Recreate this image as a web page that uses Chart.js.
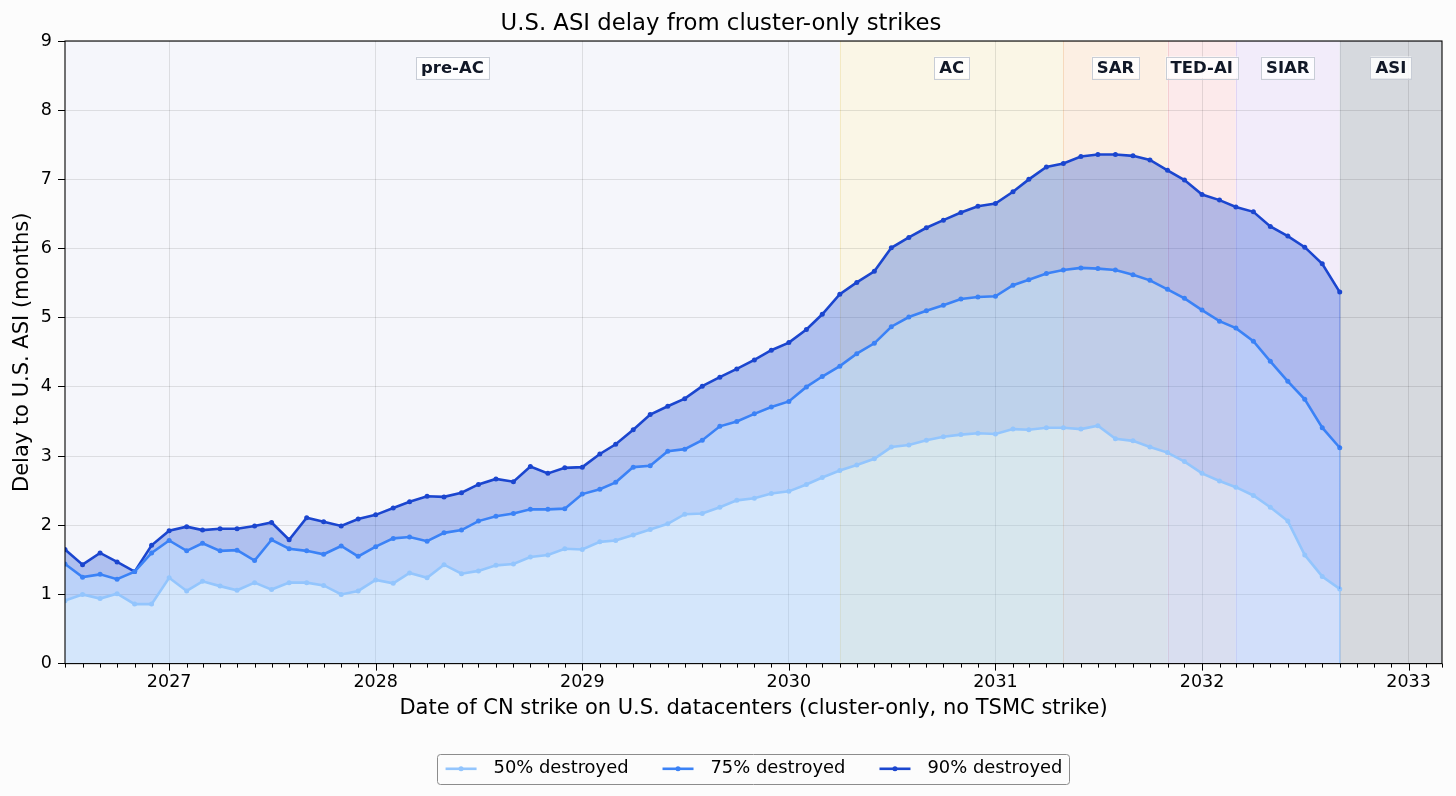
<!DOCTYPE html>
<html>
<head>
<meta charset="utf-8">
<script src="https://cdn.jsdelivr.net/npm/chart.js@4.4.1/dist/chart.umd.min.js"></script>
<style>
html,body{margin:0;padding:0;background:#fcfcfc;}
#wrap{width:1456px;height:796px;position:relative;}
</style>
</head>
<body>
<div id="wrap"><canvas id="c" width="1456" height="796"></canvas></div>
<script>
// ---------------- data ----------------
const months = [
  "2026-07","2026-08","2026-09","2026-10","2026-11","2026-12",
  "2027-01","2027-02","2027-03","2027-04","2027-05","2027-06","2027-07","2027-08","2027-09","2027-10","2027-11","2027-12",
  "2028-01","2028-02","2028-03","2028-04","2028-05","2028-06","2028-07","2028-08","2028-09","2028-10","2028-11","2028-12",
  "2029-01","2029-02","2029-03","2029-04","2029-05","2029-06","2029-07","2029-08","2029-09","2029-10","2029-11","2029-12",
  "2030-01","2030-02","2030-03","2030-04","2030-05","2030-06","2030-07","2030-08","2030-09","2030-10","2030-11","2030-12",
  "2031-01","2031-02","2031-03","2031-04","2031-05","2031-06","2031-07","2031-08","2031-09","2031-10","2031-11","2031-12",
  "2032-01","2032-02","2032-03","2032-04","2032-05","2032-06","2032-07","2032-08","2032-09"
];
const delay50 = [0.91,1.00,0.94,1.01,0.86,0.86,1.24,1.05,1.19,1.12,1.06,1.17,1.07,1.17,
  1.17,1.13,1.00,1.05,1.21,1.16,1.31,1.24,1.43,1.30,1.34,1.42,1.44,
  1.54,1.57,1.66,1.65,1.76,1.78,1.86,1.94,2.02,2.16,2.17,2.26,2.36,2.39,2.46,
  2.49,2.59,2.69,2.79,2.87,2.96,3.13,3.16,3.23,3.28,3.31,3.33,3.32,3.39,
  3.38,3.41,3.41,3.39,3.44,3.25,3.22,3.13,3.05,2.92,2.75,2.64,2.55,2.43,2.26,2.06,1.57,1.26,1.08];
const delay75 = [1.44,1.25,1.29,1.22,1.33,1.60,1.78,1.63,1.74,1.63,1.64,1.49,1.79,1.66,
  1.63,1.58,1.70,1.55,1.69,1.81,1.83,1.77,1.89,1.93,2.06,2.13,2.17,
  2.23,2.23,2.24,2.45,2.52,2.62,2.84,2.86,3.07,3.10,3.23,3.43,3.50,3.61,3.71,
  3.79,4.00,4.15,4.30,4.48,4.63,4.87,5.01,5.10,5.18,5.27,5.30,5.31,5.47,
  5.55,5.64,5.69,5.72,5.71,5.69,5.62,5.54,5.41,5.28,5.11,4.95,4.85,4.66,4.37,4.08,3.82,3.41,3.12];
const delay90 = [1.65,1.43,1.60,1.47,1.33,1.71,1.92,1.98,1.93,1.95,1.95,1.99,2.04,1.79,
  2.11,2.05,1.99,2.09,2.15,2.25,2.34,2.42,2.41,2.47,2.59,2.67,2.63,
  2.85,2.75,2.83,2.84,3.03,3.17,3.38,3.60,3.72,3.83,4.01,4.14,4.26,4.39,4.53,
  4.64,4.83,5.05,5.34,5.51,5.67,6.01,6.16,6.30,6.41,6.52,6.61,6.65,6.82,
  7.00,7.18,7.23,7.33,7.36,7.36,7.34,7.28,7.13,6.99,6.78,6.70,6.60,6.53,6.32,6.18,6.02,5.78,5.37];
const seriesLabels = ["50% destroyed","75% destroyed","90% destroyed"];
const yearTicks = ["2027-01","2028-01","2029-01","2030-01","2031-01","2032-01","2033-01"];
const axisStart = "2026-07";
const axisEnd = "2033-03";
const phaseNames  = ["pre-AC","AC","SAR","TED-AI","SIAR","ASI"];
const phaseStarts = ["2026-07","2030-04","2031-05","2031-11","2032-03","2032-09"];

// ---------------- styles ----------------
const lineColors = ["#93c5fd","#3b82f6","#1b46cf"];
const fillColors = ["rgba(147,197,253,0.33)","rgba(59,130,246,0.31)","rgba(29,78,216,0.32)"];
const edgeColors = ["rgba(147,197,253,0.9)","rgba(59,130,246,0.55)","rgba(29,78,216,0.45)"];
const phaseFill = ["#f5f6fb","#faf6e6","#fcefe3","#fceaeb","#f2ecfa","#d6d9de"];
const phaseEdge = ["#e9edf7","#f3e9c3","#f6d9bd","#f4cdd0","#e0d4f4","#c3c7ce"];
const FONT = "DejaVu Sans";

// month string -> fractional calendar year (first day of that month)
function toYear(m){
  const p = m.split("-").map(Number);
  const t0 = Date.UTC(p[0],0,1), t1 = Date.UTC(p[0]+1,0,1), t = Date.UTC(p[0],p[1]-1,1);
  return p[0] + (t - t0)/(t1 - t0);
}
const xMin = toYear(axisStart), xMax = toYear(axisEnd);
const seriesVals = [delay50, delay75, delay90];

const datasets = seriesVals.map((vals, k) => ({
  label: seriesLabels[k],
  data: months.map((m,i) => ({x: toYear(m), y: vals[i]})),
  borderColor: lineColors[k],
  backgroundColor: fillColors[k],
  borderWidth: 2.6,
  pointRadius: 2.5,
  pointBorderWidth: 0,
  pointBackgroundColor: lineColors[k],
  pointHoverRadius: 2.5,
  tension: 0,
  fill: k === 0 ? "origin" : "-1"
}));

function monthList(a, b){
  const out = [];
  let [y, m] = a.split("-").map(Number);
  const [yb, mb] = b.split("-").map(Number);
  while (y < yb || (y === yb && m <= mb)) {
    out.push({v: toYear(y + "-" + String(m).padStart(2,"0")), major: m === 1});
    m++; if (m > 12) { m = 1; y++; }
  }
  return out;
}

const decorPlugin = {
  id: "decor",
  beforeDraw(chart){
    const {ctx, chartArea: a, scales: {x}} = chart;
    ctx.save();
    ctx.fillStyle = "#fcfcfc";
    ctx.fillRect(0,0,chart.width,chart.height);
    const starts = phaseStarts.map(toYear);
    for (let i=0;i<phaseNames.length;i++){
      const x0 = x.getPixelForValue(starts[i]);
      const x1 = x.getPixelForValue(i+1<starts.length ? starts[i+1] : xMax);
      ctx.fillStyle = phaseFill[i];
      ctx.fillRect(x0, a.top, x1-x0, a.bottom-a.top);
    }
    for (let i=1;i<phaseNames.length;i++){
      const xp = Math.round(x.getPixelForValue(starts[i])) + 0.5;
      ctx.strokeStyle = phaseEdge[i];
      ctx.lineWidth = 1;
      ctx.beginPath(); ctx.moveTo(xp, a.top); ctx.lineTo(xp, a.bottom); ctx.stroke();
    }
    ctx.restore();
  },
  afterDatasetsDraw(chart){
    const {ctx, chartArea: a, scales: {x, y}} = chart;
    ctx.save();
    const last = months.length-1;
    const xl = x.getPixelForValue(toYear(months[last]));
    let prev = 0;
    seriesVals.forEach((vals,k)=>{
      ctx.strokeStyle = edgeColors[k];
      ctx.lineWidth = 1.2;
      ctx.beginPath(); ctx.moveTo(xl, y.getPixelForValue(prev)); ctx.lineTo(xl, y.getPixelForValue(vals[last])); ctx.stroke();
      prev = vals[last];
    });
    const starts = phaseStarts.map(toYear);
    ctx.font = "bold 16.5px '" + FONT + "'";
    ctx.textAlign = "center";
    ctx.textBaseline = "middle";
    for (let i=0;i<phaseNames.length;i++){
      const x0 = x.getPixelForValue(starts[i]);
      const x1 = x.getPixelForValue(i+1<starts.length ? starts[i+1] : xMax);
      const cx = (x0+x1)/2, cy = a.top + 26.5;
      const w = ctx.measureText(phaseNames[i]).width + 10, h = 22;
      ctx.fillStyle = "rgba(255,255,255,0.85)";
      ctx.strokeStyle = "#c8cdd6";
      ctx.lineWidth = 1;
      ctx.fillRect(cx-w/2, cy-h/2, w, h);
      ctx.strokeRect(Math.round(cx-w/2)+0.5, Math.round(cy-h/2)+0.5, Math.round(w), h);
      ctx.fillStyle = "#111827";
      ctx.fillText(phaseNames[i], cx, cy+1);
    }
    ctx.restore();
  },
  afterDraw(chart){
    const {ctx, chartArea: a, scales: {x}} = chart;
    ctx.save();
    ctx.strokeStyle = "#000";
    ctx.lineWidth = 1.1;
    ctx.strokeRect(a.left, a.top, a.right-a.left, a.bottom-a.top);
    ctx.lineWidth = 1;
    monthList(axisStart, axisEnd).forEach(t => {
      const px = Math.round(x.getPixelForValue(t.v)) + 0.5;
      ctx.beginPath(); ctx.moveTo(px, a.bottom); ctx.lineTo(px, a.bottom + (t.major ? 7 : 4)); ctx.stroke();
    });
    const lg = chart.legend, hb = lg.legendHitBoxes;
    let cy = 0;
    hb.forEach((h,i)=>{
      cy = h.top + h.height/2;
      const x0 = h.left + 1;
      ctx.strokeStyle = lineColors[i];
      ctx.lineWidth = 2.6;
      ctx.beginPath(); ctx.moveTo(x0, cy); ctx.lineTo(x0+31, cy); ctx.stroke();
      ctx.fillStyle = lineColors[i];
      ctx.beginPath(); ctx.arc(x0+15.5, cy, 2.5, 0, Math.PI*2); ctx.fill();
    });
    const L = hb[0].left - 8, R = hb[hb.length-1].left + hb[hb.length-1].width + 6;
    ctx.strokeStyle = "#8c8c8c";
    ctx.lineWidth = 1;
    ctx.beginPath();
    if (ctx.roundRect) ctx.roundRect(Math.round(L)+0.5, Math.round(cy-15)+0.5, Math.round(R-L), 30, 3);
    else ctx.rect(Math.round(L)+0.5, Math.round(cy-15)+0.5, Math.round(R-L), 30);
    ctx.stroke();
    ctx.restore();
  }
};

Chart.defaults.font.family = FONT;
Chart.defaults.color = "#000";

new Chart(document.getElementById("c"), {
  type: "line",
  data: { datasets },
  options: {
    responsive: false,
    animation: false,
    events: [],
    layout: { padding: { left: 0, right: 14, top: 0, bottom: 8.25 } },
    scales: {
      x: {
        type: "linear",
        min: xMin, max: xMax,
        afterBuildTicks: (s) => { s.ticks = yearTicks.map(m => ({value: toYear(m)})); },
        afterFit: (s) => { s.height = 63.25; },
        ticks: { callback: (v) => String(Math.round(v)), font: { size: 17.5 }, color: "#000", padding: 8.5, maxRotation: 0, autoSkip: false },
        grid: { color: "rgba(0,0,0,0.1)", lineWidth: 1, drawTicks: false },
        border: { display: false },
        title: { display: true, text: "Date of CN strike on U.S. datacenters (cluster-only, no TSMC strike)", font: { size: 21 }, color: "#000", padding: { top: 0, bottom: 5.5 } }
      },
      y: {
        type: "linear",
        min: 0, max: 9,
        afterFit: (s) => { s.width = 65; },
        ticks: { stepSize: 1, font: { size: 17.5 }, color: "#000", padding: 6 },
        grid: { color: "rgba(0,0,0,0.1)", lineWidth: 1, drawTicks: true, tickLength: 7, tickColor: "#000", tickWidth: 1 },
        border: { display: false },
        title: { display: true, text: "Delay to U.S. ASI (months)", font: { size: 21 }, color: "#000", padding: { top: 10, bottom: 0 } }
      }
    },
    plugins: {
      filler: { drawTime: "beforeDatasetsDraw" },
      tooltip: { enabled: false },
      title: { display: true, text: "U.S. ASI delay from cluster-only strikes", font: { size: 22.75, weight: "normal" }, color: "#000", padding: { top: 10, bottom: 3.7 } },
      legend: {
        display: true,
        position: "bottom",
        fullSize: false,
        onClick: null,
        labels: {
          boxWidth: 40,
          font: { size: 17.9 },
          color: "#000",
          padding: 33,
          generateLabels: (chart) => chart.data.datasets.map((ds,i) => ({
            text: ds.label, fillStyle: "rgba(0,0,0,0)", strokeStyle: "rgba(0,0,0,0)",
            lineWidth: 0, hidden: false, datasetIndex: i, fontColor: "#000"
          }))
        }
      }
    }
  },
  plugins: [decorPlugin]
});
</script>
</body>
</html>
